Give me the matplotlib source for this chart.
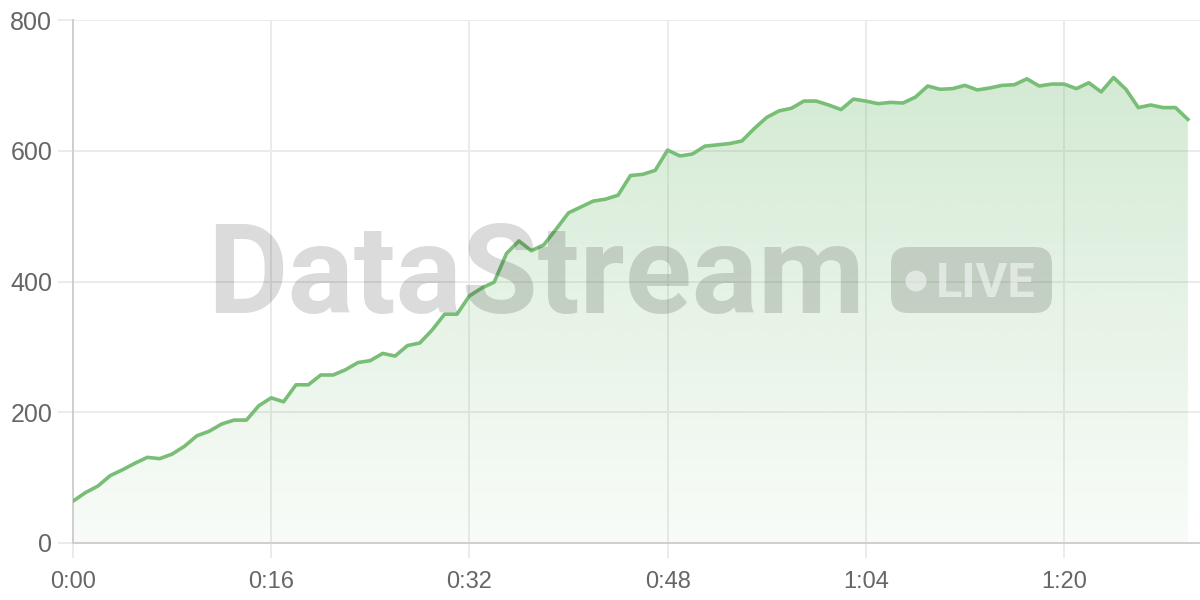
import numpy as np
import matplotlib
matplotlib.use("Agg")
import matplotlib.pyplot as plt
from matplotlib.patches import FancyBboxPatch, Circle
from matplotlib.transforms import IdentityTransform

# ---------------- data ----------------
minutes = list(range(91))
viewers = [64, 77, 87, 103, 112, 122, 131, 129, 136, 148,
           164, 171, 182, 188, 188, 210, 222, 216, 242, 242,
           257, 257, 265, 276, 279, 290, 286, 302, 306, 326,
           350, 350, 378, 390, 399, 443, 462, 447, 456, 480,
           505, 514, 523, 526, 532, 562, 564, 570, 601, 592,
           595, 607, 609, 611, 615, 634, 651, 661, 665, 676,
           676, 670, 663, 679, 676, 672, 674, 673, 682, 699,
           694, 695, 700, 693, 696, 700, 701, 710, 699, 702,
           702, 695, 704, 690, 712, 694, 666, 670, 666, 666,
           648]
x_ticks = [0, 16, 32, 48, 64, 80]
x_tick_labels = ["0:00", "0:16", "0:32", "0:48", "1:04", "1:20"]
y_ticks = [0, 200, 400, 600, 800]
watermark = "DataStream"
badge_text = "LIVE"

# ---------------- style ----------------
W, H = 1200, 600
LINE = "#78be77"
GRID = "#ebebeb"
AXIS = "#cfcfcf"
LABEL = "#666666"

fig = plt.figure(figsize=(W / 100, H / 100), dpi=100)
fig.patch.set_facecolor("white")
left_px, bottom_px, top_px = 73, 57, 20
ax = fig.add_axes([left_px / W, bottom_px / H, 1 - left_px / W, (H - bottom_px - top_px) / H])

px_per_min = (1064 - 73) / 80
ax.set_xlim(0, (W - left_px) / px_per_min)
ax.set_ylim(0, 800)

x = np.array(minutes, dtype=float)
y = np.array(viewers, dtype=float)

# gradient area
fill = ax.fill_between(x, y, 0, facecolor="none", edgecolor="none")
green = np.array(matplotlib.colors.to_rgb(LINE))
n = 256
alphas = np.linspace(0.05, 0.32, n)[:, None]
grad = np.zeros((n, 1, 4))
grad[..., :3] = green
grad[..., 3] = alphas
im = ax.imshow(grad, aspect="auto", origin="lower",
               extent=[x.min(), x.max(), 0, y.max()], zorder=1,
               interpolation="bilinear")
im.set_clip_path(fill.get_paths()[0], transform=ax.transData)

ax.plot(x, y, color=LINE, lw=2.6, zorder=3, solid_joinstyle="round")

# axes styling
for s in ["top", "right"]:
    ax.spines[s].set_visible(False)
for s in ["left", "bottom"]:
    ax.spines[s].set_color(AXIS)
    ax.spines[s].set_linewidth(1.4)
    ax.spines[s].set_zorder(2)
ax.set_xticks(x_ticks)
ax.set_xticklabels(x_tick_labels)
ax.set_yticks(y_ticks)
ax.set_yticklabels([str(v) for v in y_ticks])
ax.grid(True, color=GRID, lw=1.4, zorder=0)
ax.set_axisbelow(True)
ax.tick_params(axis="both", length=11, width=1.4, color=GRID,
               labelcolor=LABEL)
ax.tick_params(axis="y", pad=4, labelsize=18)
ax.tick_params(axis="x", pad=9, labelsize=17)
for lab in ax.get_xticklabels() + ax.get_yticklabels():
    lab.set_fontfamily("Liberation Sans")

# watermark
wm_col = (0, 0, 0, 0.14)
fig.text(207 / W, 1 - 313 / H, watermark, fontsize=89, fontweight="bold",
         family="Roboto", color=wm_col, ha="left", va="baseline", zorder=10)
badge = FancyBboxPatch((891, H - 313), 161, 66,
                       boxstyle="round,pad=0,rounding_size=17",
                       transform=IdentityTransform(), fc=wm_col, ec="none", zorder=10)
fig.add_artist(badge)
fig.add_artist(Circle((916, H - 281), 10.5, transform=IdentityTransform(),
                      fc=(1, 1, 1, 0.5), ec="none", zorder=11))
fig.text(936 / W, 1 - 297 / H, badge_text, fontsize=35, fontweight="bold",
         family="Roboto", color=(1, 1, 1, 0.5), ha="left", va="baseline", zorder=11)

fig.savefig("out.png", dpi=100)
